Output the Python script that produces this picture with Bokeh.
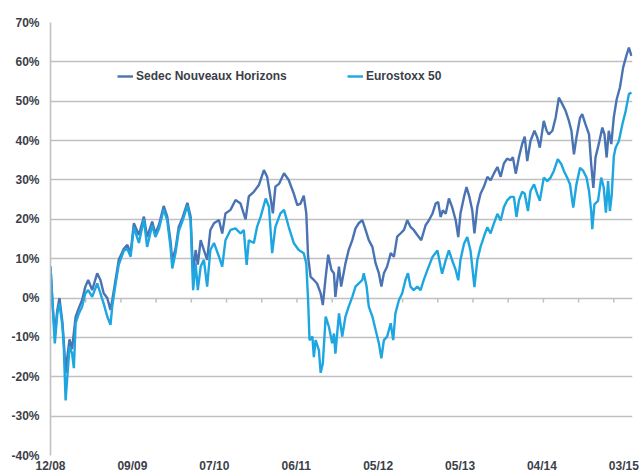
from bokeh.plotting import figure
from bokeh.models import FixedTicker, PrintfTickFormatter, Legend, LegendItem
from bokeh.embed import file_html
from bokeh.resources import INLINE

# Trading-day index (0 = 12/08) and cumulative performance in %
sedec_day = [0, 6, 12, 19, 25, 33, 37, 42, 46, 53, 60, 70, 79, 88, 97, 105, 116, 130, 139, 148,
             158, 167, 172, 181, 190, 204, 214, 223, 232, 246, 260, 269, 283, 292, 302, 315, 325, 334, 339, 348,
             357, 367, 381, 390, 397, 404, 410, 418, 427, 436, 445, 455, 469, 478, 487, 501, 515, 529, 543, 552,
             566, 580, 594, 603, 612, 619, 626, 636, 650, 663, 677, 687, 696, 705, 712, 717, 724, 733, 742, 752,
             758, 766, 773, 782, 789, 793, 803, 809, 821, 830, 840, 849, 858, 868, 877, 886, 896, 905, 914, 921,
             928, 937, 947, 956, 965, 974, 984, 993, 1002, 1011, 1021, 1032, 1044, 1053, 1063, 1072, 1079, 1086, 1092, 1100,
             1109, 1118, 1128, 1135, 1141, 1151, 1158, 1166, 1174, 1180, 1188, 1197, 1206, 1216, 1225, 1234, 1244, 1253, 1262, 1271,
             1281, 1287, 1295, 1304, 1313, 1320, 1327, 1336, 1347, 1355, 1362, 1373, 1381, 1387, 1397, 1406, 1415, 1425, 1434, 1443,
             1450, 1457, 1464, 1474, 1480, 1489, 1499, 1505, 1511, 1517, 1526, 1536, 1542, 1548, 1554, 1561, 1568, 1576, 1585, 1594,
             1604, 1610, 1617]
sedec_val = [8.0, -2, -9, -3, 0, -6, -11, -19, -15.5, -10.5, -13, -4.7, -2.5, -0.5, 2.9, 4.6, 2, 6.3, 4.6, 1.2,
             0, -3, -0.5, 4.6, 9.7, 12.5, 13.5, 11.4, 19, 16, 20.7, 15.5, 19.4, 16.4, 18.6, 23.4, 20.7, 14.5, 9.5, 12.5,
             18.1, 20.3, 24.2, 20.7, 6, 12.2, 8.5, 14.7, 12.2, 9.7, 17.3, 19, 19.8, 16.4, 21.5, 22.4, 24.9, 24, 20, 25.8,
             27, 28.7, 32.5, 30.8, 25.8, 21.5, 28.3, 29, 31.7, 30, 26.6, 23.6, 24, 26, 21.5, 10.5, 5.4, 4.6, 3.7, 1.2,
             -1.8, 5.4, 11, 7.1, 6.3, 0.3, 8, 2.9, 8.8, 12.2, 14.7, 17.7, 19, 19.8, 17.3, 14.7, 13, 8.8, 6.3, 2.9,
             6.3, 8, 11.4, 10.5, 15.6, 16.4, 17.3, 19.8, 18.1, 17.3, 16, 14.7, 18.5, 19.7, 21.4, 24, 24.4, 20.6, 22.3, 21.4,
             25.3, 23.1, 19.7, 15.5, 21.4, 25.7, 28.2, 25.7, 22.3, 16.4, 23.1, 26.5, 28.2, 30.8, 29.9, 31.6, 33.3, 30.8, 34.2, 35.4,
             35, 35.8, 31.6, 35.8, 39.2, 41, 34.8, 39.9, 42.5, 40.8, 38.2, 45, 42.5, 41.6, 42.5, 45.8, 50.9, 49.2, 47.5, 45,
             42.5, 36.5, 40.8, 45.8, 46.7, 44.2, 41.6, 34, 28, 35.7, 39.1, 43.3, 41.6, 35.7, 42.5, 39.1, 46, 50.5, 53.5, 58.6,
             61.9, 63.6, 61.5]

stoxx_day = [0, 6, 12, 19, 25, 33, 37, 42, 46, 53, 60, 65, 70, 79, 88, 97, 105, 116, 130, 139,
             148, 158, 167, 172, 181, 190, 204, 214, 223, 232, 246, 260, 269, 283, 292, 302, 315, 325, 334, 339,
             348, 357, 367, 381, 390, 397, 404, 410, 418, 427, 436, 445, 455, 469, 478, 487, 501, 515, 529, 538,
             546, 552, 566, 575, 585, 599, 608, 617, 626, 640, 650, 663, 677, 691, 705, 712, 717, 721, 729, 733,
             738, 747, 752, 758, 766, 775, 784, 789, 793, 803, 812, 821, 830, 840, 849, 858, 868, 872, 880, 886,
             896, 905, 914, 921, 928, 937, 947, 954, 960, 970, 979, 988, 995, 1002, 1011, 1021, 1030, 1039, 1049, 1063,
             1077, 1086, 1090, 1100, 1109, 1118, 1128, 1135, 1141, 1151, 1160, 1169, 1174, 1180, 1188, 1197, 1206, 1216, 1225, 1234,
             1244, 1253, 1262, 1271, 1281, 1290, 1297, 1304, 1313, 1320, 1329, 1336, 1346, 1355, 1362, 1373, 1383, 1392, 1401, 1412,
             1422, 1429, 1438, 1446, 1455, 1464, 1474, 1483, 1492, 1499, 1505, 1508, 1514, 1524, 1533, 1540, 1546, 1552, 1557, 1562,
             1568, 1573, 1582, 1592, 1601, 1610, 1617]
stoxx_val = [8.0, -2, -11.5, -4, -1.4, -7, -12.4, -26, -21, -12.4, -14, -17.8, -6.4, -3.9, -2.2, 1.2, 2, 0.3, 3.7, 1.2,
             -1.4, -4.7, -6.8, -2, 3.5, 8.5, 12, 12.5, 10.5, 18, 14, 20, 13, 18.5, 15.5, 17.6, 22.5, 19.7, 13, 7.5,
             11.5, 17, 19.5, 23.5, 19.5, 2, 8.8, 2, 8, 9.7, 2.9, 12.2, 14, 10.5, 8, 14.7, 17.3, 17.7, 16.4, 17.3,
             8.4, 14.7, 14, 18.1, 20.7, 25.3, 23.2, 11.4, 18.1, 21.5, 22.4, 18.1, 14, 12.2, 11.4, 8.8, -0.5, -10.7, -9.8, -15,
             -10.7, -13.2, -19, -16.6, -4.7, -7.3, -11.5, -9, -14.1, -3.9, -9.8, -4.7, -2.2, 0.3, 2.9, 3.7, 4.6, 6.3, 2.9, -2.2,
             -4.7, -8.1, -11.5, -15.3, -10.7, -9.8, -6.4, -10.7, -3.9, -0.5, 1.2, 4.6, 6.3, 2.9, 2, 2.9, 2, 4.6, 7.1, 10.4,
             12.1, 7.9, 6.2, 9.6, 12.1, 9.6, 7.1, 4.5, 9.6, 13.8, 15.5, 12.1, 7.9, 2.8, 9.6, 13, 15.5, 18, 16.4, 18.9,
             21.4, 19.7, 23.1, 24.8, 25.7, 25.7, 20.6, 24.8, 27, 26.5, 22.1, 27.2, 28.9, 26.4, 24.7, 30.6, 29.7, 30.6, 32.3, 35.3,
             34, 32.3, 30.6, 28.9, 23, 28.9, 33.1, 32.3, 30.6, 27.2, 22.1, 17.5, 23.8, 24.7, 30.6, 28, 21.7, 29.7, 22.1, 26,
             36, 38.2, 39.9, 44.2, 47.5, 51.8, 52.2]

x_tick_days = [0, 228, 456, 684, 912, 1140, 1368, 1596]
x_tick_labels = ["12/08", "09/09", "07/10", "06/11", "05/12", "05/13", "04/14", "03/15"]
zero_mark_days = [0, 98, 196, 294, 392, 490, 588, 686, 784, 882, 980, 1078, 1176, 1274, 1372, 1470, 1568]
y_ticks = [-40, -30, -20, -10, 0, 10, 20, 30, 40, 50, 60, 70]

FONT = "Liberation Sans"
TXT = "#3B3F4A"
GRID = "#C0C0C0"
DARK = "#4A73B3"
LIGHT = "#1DA6E0"

p = figure(width=640, height=476, x_range=(0, 1620), y_range=(-40, 70),
           output_backend="svg", toolbar_location=None,
           min_border_left=50, min_border_right=8, min_border_top=22, min_border_bottom=21)
p.outline_line_color = None
p.background_fill_color = "white"
p.border_fill_color = "white"

p.xgrid.visible = False
p.ygrid.ticker = FixedTicker(ticks=y_ticks)
p.ygrid.grid_line_color = GRID
p.ygrid.grid_line_width = 1.6

p.xaxis.ticker = FixedTicker(ticks=x_tick_days)
p.xaxis.major_label_overrides = {d: lab for d, lab in zip(x_tick_days, x_tick_labels)}
p.xaxis.axis_line_color = None
p.xaxis.major_tick_line_color = None
p.xaxis.minor_tick_line_color = None
p.xaxis.major_tick_out = 0
p.xaxis.major_tick_in = 0
p.xaxis.major_label_standoff = 3
p.xaxis.major_label_text_font = FONT
p.xaxis.major_label_text_font_style = "bold"
p.xaxis.major_label_text_font_size = "12px"
p.xaxis.major_label_text_color = TXT

p.yaxis.ticker = FixedTicker(ticks=y_ticks)
p.yaxis.formatter = PrintfTickFormatter(format="%d%%")
p.yaxis.axis_line_color = GRID
p.yaxis.axis_line_width = 1.6
p.yaxis.major_tick_line_color = None
p.yaxis.minor_tick_line_color = None
p.yaxis.major_tick_out = 0
p.yaxis.major_tick_in = 0
p.yaxis.major_label_standoff = 11
p.yaxis.major_label_text_font = FONT
p.yaxis.major_label_text_font_style = "bold"
p.yaxis.major_label_text_font_size = "12px"
p.yaxis.major_label_text_color = TXT

# tick marks along the 0% line
p.segment(x0=zero_mark_days, y0=0, x1=zero_mark_days, y1=-1.1, line_color=GRID, line_width=1.5)

r1 = p.line(sedec_day, sedec_val, line_color=DARK, line_width=2.4)
r2 = p.line(stoxx_day, stoxx_val, line_color=LIGHT, line_width=2.4)

def make_legend(label, r, loc):
    return Legend(items=[LegendItem(label=label, renderers=[r])], location=loc,
                  orientation="horizontal", padding=0, margin=0, spacing=0,
                  border_line_color=None, background_fill_alpha=0,
                  glyph_width=16, glyph_height=16, label_height=16, label_standoff=3,
                  label_text_font=FONT, label_text_font_style="bold",
                  label_text_font_size="12px", label_text_color=TXT)

p.add_layout(make_legend("Sedec Nouveaux Horizons", r1, (67, 371)))
p.add_layout(make_legend("Eurostoxx 50", r2, (297, 371)))

open("out.html", "w").write(file_html(p, INLINE))
